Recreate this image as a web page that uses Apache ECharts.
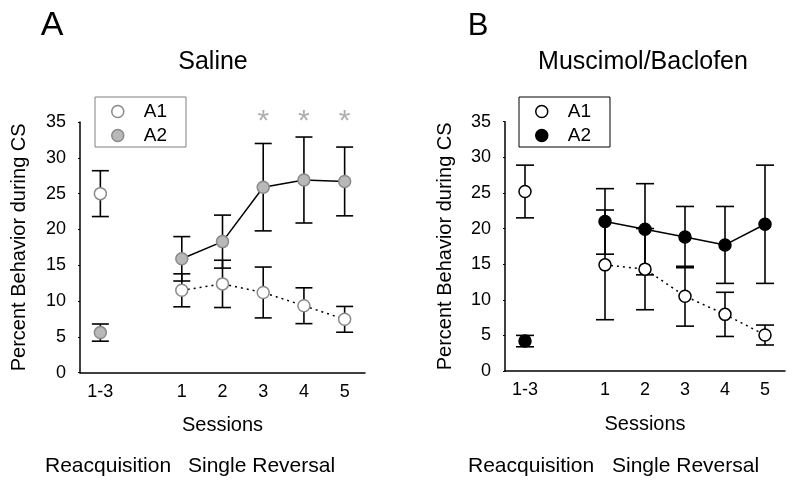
<!DOCTYPE html>
<html>
<head>
<meta charset="utf-8">
<script src="https://cdn.jsdelivr.net/npm/echarts@6/dist/echarts.min.js"></script>
<style>html,body{margin:0;padding:0;background:#fff}#chart{width:794px;height:488px}</style>
</head>
<body>
<div id="chart"></div>
<script>
// ---- data ----
const categories = ['1-3', '', '1', '2', '3', '4', '5'];
const yTicks = [0, 5, 10, 15, 20, 25, 30, 35];
// Saline
const salineA1 = [25.0, null, 11.5, 12.4, 11.2, 9.35, 7.45];
const salineA1Err = [3.2, null, 2.3, 3.3, 3.55, 2.5, 1.8];
const salineA2 = [5.6, null, 15.9, 18.3, 25.9, 26.9, 26.7];
const salineA2Err = [1.2, null, 3.1, 3.7, 6.1, 6.0, 4.8];
const sigSessions = ['3', '4', '5'];
// Muscimol/Baclofen
const muscA1 = [25.2, null, 14.9, 14.3, 10.5, 7.95, 5.05];
const muscA1Err = [3.7, null, 7.7, 5.7, 4.2, 3.1, 1.4];
const muscA2 = [4.2, null, 21.0, 19.9, 18.8, 17.7, 20.6];
const muscA2Err = [0.8, null, 4.6, 6.4, 4.3, 5.4, 8.3];

const FONT = '"Liberation Sans", Arial, sans-serif';

function toLine(arr) { return arr.map(v => v == null ? '-' : v); }
function toErr(vals, errs) {
  const out = [];
  vals.forEach((v, i) => { if (v != null) out.push([i, v - errs[i], v + errs[i]]); });
  return out;
}
function errRender(half) {
  return function (params, api) {
    const x = api.value(0);
    const lo = api.coord([x, api.value(1)]);
    const hi = api.coord([x, api.value(2)]);
    const st = { stroke: '#000', lineWidth: 1.6 };
    return {
      type: 'group',
      children: [
        { type: 'line', shape: { x1: lo[0], y1: lo[1], x2: hi[0], y2: hi[1] }, style: st },
        { type: 'line', shape: { x1: hi[0] - half, y1: hi[1], x2: hi[0] + half, y2: hi[1] }, style: st },
        { type: 'line', shape: { x1: lo[0] - half, y1: lo[1], x2: lo[0] + half, y2: lo[1] }, style: st }
      ]
    };
  };
}

const chart = echarts.init(document.getElementById('chart'), null, { renderer: 'canvas' });

function xAxis(gi) {
  return {
    type: 'category', gridIndex: gi, data: categories, boundaryGap: true,
    name: 'Sessions', nameLocation: 'middle', nameGap: 43,
    nameTextStyle: { fontFamily: FONT, fontSize: 20, color: '#000' },
    axisLine: { lineStyle: { color: '#000', width: 1.5 } },
    axisTick: { show: false },
    axisLabel: { interval: 0, fontFamily: FONT, fontSize: 18, color: '#000', margin: 10 }
  };
}
function yAxis(gi, gap) {
  return {
    type: 'value', gridIndex: gi, min: yTicks[0], max: yTicks[yTicks.length - 1], interval: 5,
    name: 'Percent Behavior during CS', nameLocation: 'middle', nameGap: gap,
    nameTextStyle: { fontFamily: FONT, fontSize: 20, color: '#000' },
    splitLine: { show: false },
    axisLine: { show: true, lineStyle: { color: '#000', width: 1.5 } },
    axisTick: { show: true, length: 2, lineStyle: { color: '#000' } },
    axisLabel: { fontFamily: FONT, fontSize: 18, color: '#000', margin: 14 }
  };
}

const salA1Style = { color: '#fff', borderColor: '#8a8a8a', borderWidth: 1.5 };
const salA2Style = { color: '#b8b8b8', borderColor: '#8a8a8a', borderWidth: 1.5 };
const musA1Style = { color: '#fff', borderColor: '#000', borderWidth: 1.5 };
const musA2Style = { color: '#000', borderColor: '#000', borderWidth: 1.5 };

function lineSeries(name, gi, vals, itemStyle, dotted) {
  return {
    type: 'line', name: name, xAxisIndex: gi, yAxisIndex: gi,
    data: toLine(vals), symbol: 'circle', symbolSize: 12,
    itemStyle: itemStyle,
    lineStyle: { color: '#000', width: 1.5, type: dotted ? [2, 4] : 'solid' },
    z: 3, animation: false
  };
}
function errSeries(gi, vals, errs, half) {
  return {
    type: 'custom', xAxisIndex: gi, yAxisIndex: gi,
    data: toErr(vals, errs), renderItem: errRender(half),
    encode: { x: 0, y: [1, 2] }, z: 2, silent: true, animation: false
  };
}

function legend(left, borderColor, a1, a2) {
  return {
    left: left, top: 97, orient: 'vertical',
    icon: 'circle', itemWidth: 12, itemHeight: 12, itemGap: 5,
    padding: [5, 19, 2, 16],
    borderColor: borderColor, borderWidth: 1,
    formatter: '{t|{name}}',
    textStyle: {
      fontFamily: FONT, fontSize: 19, color: '#000', lineHeight: 19,
      rich: { t: { fontFamily: FONT, fontSize: 19, color: '#000', lineHeight: 19, padding: [0, 0, 0, 15] } }
    },
    selectedMode: false,
    data: [
      { name: 'A1', itemStyle: a1 },
      { name: 'A2', itemStyle: a2 }
    ]
  };
}

const option = {
  backgroundColor: '#fff',
  animation: false,
  textStyle: { fontFamily: FONT },
  grid: [
    { left: 80, top: 122, width: 285, height: 250.7 },
    { left: 505, top: 121.7, width: 280, height: 249.3 }
  ],
  xAxis: [xAxis(0), xAxis(1)],
  yAxis: [yAxis(0, 51), yAxis(1, 50)],
  legend: [
    legend(95, '#808080', salA1Style, salA2Style),
    legend(519, '#000', musA1Style, musA2Style)
  ],
  graphic: [
    { type: 'text', x: 52, y: 26, style: { text: 'A', font: '34px ' + FONT, fill: '#000', align: 'center', verticalAlign: 'middle' } },
    { type: 'text', x: 478, y: 26, style: { text: 'B', font: '31px ' + FONT, fill: '#000', align: 'center', verticalAlign: 'middle' } },
    { type: 'text', x: 213, y: 62.5, style: { text: 'Saline', font: '25px ' + FONT, fill: '#000', align: 'center', verticalAlign: 'middle' } },
    { type: 'text', x: 643, y: 62.5, style: { text: 'Muscimol/Baclofen', font: '25px ' + FONT, fill: '#000', align: 'center', verticalAlign: 'middle' } },
    { type: 'text', x: 45, y: 466, style: { text: 'Reacquisition', font: '21px ' + FONT, fill: '#000', align: 'left', verticalAlign: 'middle' } },
    { type: 'text', x: 188, y: 466, style: { text: 'Single Reversal', font: '21px ' + FONT, fill: '#000', align: 'left', verticalAlign: 'middle' } },
    { type: 'text', x: 468, y: 466, style: { text: 'Reacquisition', font: '21px ' + FONT, fill: '#000', align: 'left', verticalAlign: 'middle' } },
    { type: 'text', x: 612, y: 466, style: { text: 'Single Reversal', font: '21px ' + FONT, fill: '#000', align: 'left', verticalAlign: 'middle' } }
  ],
  series: [
    errSeries(0, salineA1, salineA1Err, 8.5),
    errSeries(0, salineA2, salineA2Err, 8.5),
    lineSeries('A1', 0, salineA1, salA1Style, true),
    lineSeries('A2', 0, salineA2, salA2Style, false),
    {
      type: 'scatter', xAxisIndex: 0, yAxisIndex: 0, clip: false, silent: true,
      data: sigSessions.map(s => [s, 35.0]), symbolSize: 0,
      label: { show: true, position: 'inside', formatter: '*', fontFamily: FONT, fontSize: 30, color: '#9a9a9a' },
      z: 5
    },
    errSeries(1, muscA1, muscA1Err, 9),
    errSeries(1, muscA2, muscA2Err, 9),
    lineSeries('A1', 1, muscA1, musA1Style, true),
    lineSeries('A2', 1, muscA2, musA2Style, false)
  ]
};
chart.setOption(option);
</script>
</body>
</html>
